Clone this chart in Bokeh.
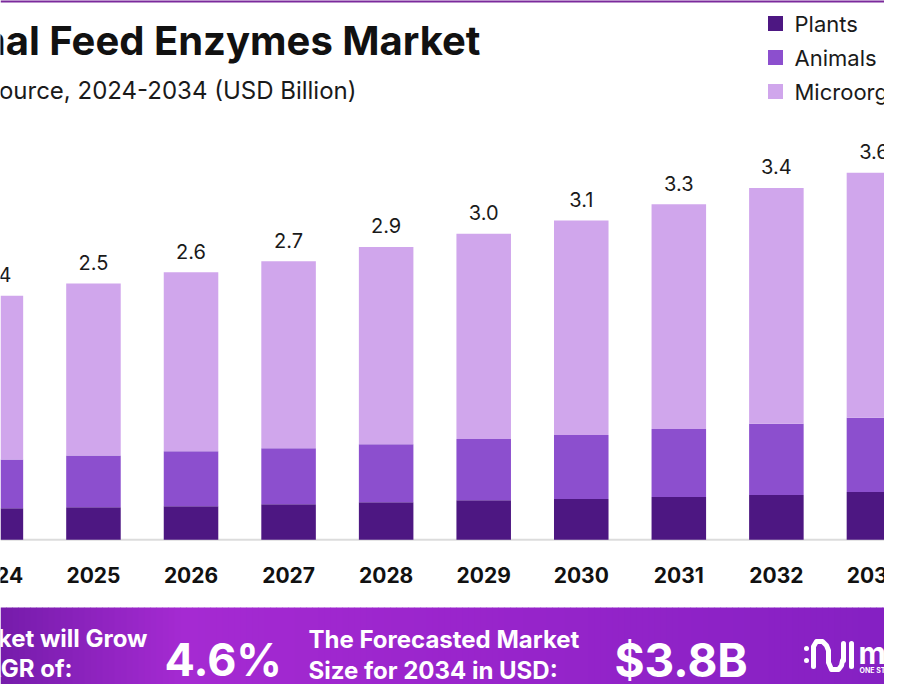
from bokeh.plotting import figure
from bokeh.models import Range1d, ColumnDataSource
from bokeh.core.properties import value
from bokeh.embed import file_html
from bokeh.resources import INLINE

# ---- data ----
years = [2024, 2025, 2026, 2027, 2028, 2029, 2030, 2031, 2032, 2033]
plants = [0.31, 0.32, 0.33, 0.35, 0.37, 0.39, 0.40, 0.42, 0.44, 0.47]
animals = [0.48, 0.51, 0.54, 0.55, 0.57, 0.60, 0.63, 0.67, 0.70, 0.73]
microorganisms = [1.61, 1.69, 1.76, 1.84, 1.94, 2.02, 2.11, 2.21, 2.32, 2.41]
total_labels = ["2.4", "2.5", "2.6", "2.7", "2.9", "3.0", "3.1", "3.3", "3.4", "3.6"]
year_labels = [str(y) for y in years]
series = ["Plants", "Animals", "Microorganisms"]
colors = ["#4d1782", "#8c4fce", "#d0a6ec"]

title = "Global Animal Feed Enzymes Market"
subtitle = "Animal Feed Enzymes Market Size, By Source, 2024-2034 (USD Billion)"
cagr_text = ["The Market will Grow", "At the CAGR of:"]
cagr_value = "4.6%"
forecast_text = ["The Forecasted Market", "Size for 2034 in USD:"]
forecast_value = "$3.8B"

# ---- layout helpers (picture pixel -> data) ----
W, H = 884, 684
PX = 97.56
X0 = 2024 + 4.6 / PX
X1 = X0 + W / PX
SY = 101.7
BASE = 539.3


def fx(px):
    return X0 + px / PX


def fy(py):
    return (BASE - py) / SY


p = figure(width=W, height=H, x_range=Range1d(X0, X1), y_range=Range1d(fy(H), fy(0)),
           output_backend="svg", toolbar_location=None, min_border=0,
           x_axis_location=None, y_axis_location=None)
p.grid.visible = False
p.outline_line_color = None
p.background_fill_color = "white"
p.border_fill_color = "white"

# thin top accent line
p.quad(left=[fx(0)], right=[fx(900)], top=[fy(-2)], bottom=[fy(2)], color="#7b2a9c", line_color=None)

# baseline
p.segment(x0=[fx(0)], y0=[0], x1=[fx(900)], y1=[0], line_color="#dcdcdc", line_width=2)

# stacked bars
totals = [a + b + c for a, b, c in zip(plants, animals, microorganisms)]
src = ColumnDataSource(dict(year=years, Plants=plants, Animals=animals,
                            Microorganisms=microorganisms, total=totals,
                            lab=total_labels, ylab=year_labels))
p.vbar_stack(series, x="year", width=0.559, color=colors, source=src, line_color=None)

# value labels
p.text(x="year", y="total", text="lab", source=src, text_align="center",
       text_baseline="alphabetic", y_offset=-21, text_font=value("Inter"),
       text_font_size="20px", text_color="#1a1a1a")

# year labels
p.text(x="year", y=fy(574), text="ylab", source=src, text_align="center",
       text_baseline="middle", text_font=value("Inter"), text_font_style="bold",
       text_font_size="21px", text_color="#111111")

# title / subtitle
p.text(x=[fx(480)], y=[fy(40)], text=[title], text_align="right", text_baseline="middle",
       text_font=value("Inter"), text_font_style="bold", text_font_size="40px",
       text_color="#111111")
p.text(x=[fx(356)], y=[fy(90)], text=[subtitle], text_align="right", text_baseline="middle",
       text_font=value("Inter"), text_font_size="24px", text_color="#1a1a1a")

# legend
leg_y = [23, 57, 91]
p.scatter(x=[fx(775)] * 3, y=[fy(v) for v in leg_y], marker="square", size=15,
          color=colors, line_color=None)
p.text(x=[fx(794)] * 3, y=[fy(v) for v in leg_y], text=series, text_align="left",
       text_baseline="middle", text_font=value("Inter"), text_font_size="22px",
       text_color="#1a1a1a")


# bottom banner gradient
def hex2rgb(h):
    h = h.lstrip("#")
    return tuple(int(h[i:i + 2], 16) for i in (0, 2, 4))


stops = [(0, "#761cab"), (180, "#a52ad2"), (450, "#9a25cc"), (900, "#8420c2")]
lefts, rights, cols = [], [], []
step = 6
for px in range(0, 900, step):
    for (a, ca), (b, cb) in zip(stops[:-1], stops[1:]):
        if a <= px <= b:
            t = (px - a) / (b - a)
            r1, g1, b1 = hex2rgb(ca)
            r2, g2, b2 = hex2rgb(cb)
            cols.append("#%02x%02x%02x" % (round(r1 + (r2 - r1) * t),
                                          round(g1 + (g2 - g1) * t),
                                          round(b1 + (b2 - b1) * t)))
            break
    lefts.append(fx(px))
    rights.append(fx(px + step + 0.5))
p.quad(left=lefts, right=rights, top=fy(607), bottom=fy(705), color=cols, line_color=None)

bfont = value("Inter")
p.text(x=[fx(147)], y=[fy(638)], text=[cagr_text[0]], text_align="right", text_baseline="middle",
       text_font=bfont, text_font_style="bold", text_font_size="24px", text_color="white")
p.text(x=[fx(72)], y=[fy(668)], text=[cagr_text[1]], text_align="right", text_baseline="middle",
       text_font=bfont, text_font_style="bold", text_font_size="24px", text_color="white")
p.text(x=[fx(164)], y=[fy(659)], text=[cagr_value], text_align="left", text_baseline="middle",
       text_font=bfont, text_font_style="bold", text_font_size="45px", text_color="white")
p.text(x=[fx(308)] * 2, y=[fy(639), fy(670)], text=forecast_text, text_align="left",
       text_baseline="middle", text_font=bfont, text_font_style="bold",
       text_font_size="24px", text_color="white")
p.text(x=[fx(614)], y=[fy(659)], text=[forecast_value], text_align="left", text_baseline="middle",
       text_font=bfont, text_font_style="bold", text_font_size="46px", text_color="white")

# logo (approximate)
p.scatter(x=[fx(806), fx(806)], y=[fy(648), fy(660)], size=5, color="white", line_color=None)
p.line(x=[fx(813), fx(813), fx(816), fx(822), fx(826), fx(828), fx(828), fx(831), fx(838), fx(841), fx(842)],
       y=[fy(666), fy(646), fy(641), fy(641), fy(645), fy(650), fy(662), fy(669), fy(669), fy(665), fy(660)],
       line_color="white", line_width=5, line_cap="round", line_join="round")
p.segment(x0=[fx(843), fx(851)], y0=[fy(660), fy(666)], x1=[fx(843), fx(851)], y1=[fy(643), fy(643)],
          line_color="white", line_width=5, line_cap="round")
p.text(x=[fx(858)], y=[fy(652)], text=["market.us"], text_align="left", text_baseline="middle",
       text_font=bfont, text_font_style="bold", text_font_size="30px", text_color="white")
p.text(x=[fx(859)], y=[fy(670)], text=["ONE STOP SHOP FOR THE REPORTS"], text_align="left",
       text_baseline="middle", text_font=bfont, text_font_style="bold", text_font_size="7px",
       text_color="white")

open("out.html", "w").write(file_html(p, INLINE))
